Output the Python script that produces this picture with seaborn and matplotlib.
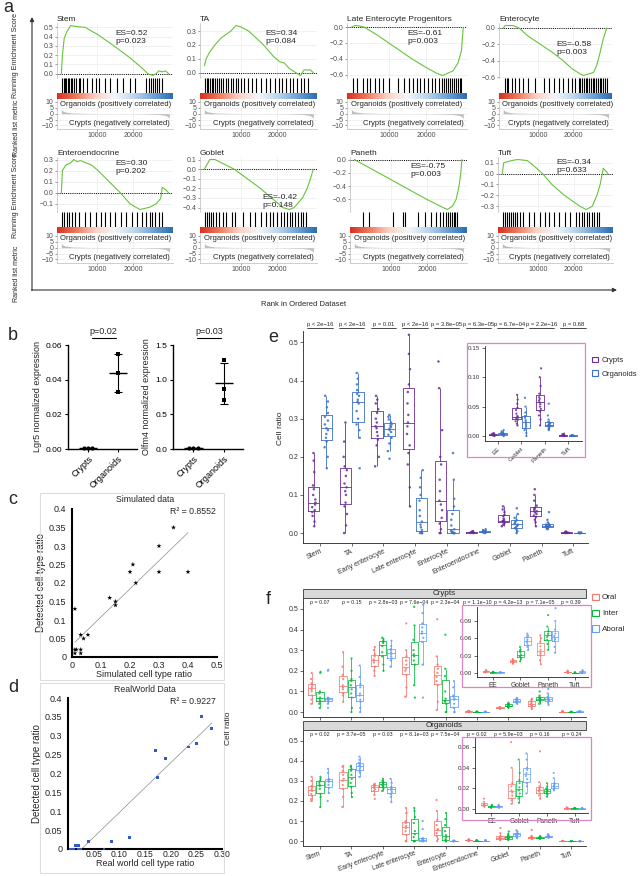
import numpy as np
import pandas as pd
import matplotlib
matplotlib.use("Agg")
import matplotlib.pyplot as plt
import seaborn as sns
from matplotlib.colors import LinearSegmentedColormap
from matplotlib.patches import Rectangle, Patch
from matplotlib.ticker import MultipleLocator, FuncFormatter

# ---------------- data: panel a (GSEA running enrichment score) ----------------
stem_rank = [0, 300, 800, 1500, 2600, 4000, 6600, 10200, 14600, 19100, 22700, 24000, 25400, 26300, 27100, 28000, 28900, 29800]
stem_score = [0.0, 0.2, 0.38, 0.45, 0.52, 0.51, 0.5, 0.42, 0.3, 0.17, 0.05, 0.0, -0.02, 0.0, 0.03, 0.02, 0.03, 0.0]
ta_rank = [0, 500, 1500, 2900, 4600, 7300, 8700, 10000, 12200, 16300, 18900, 20700, 22000, 23400, 25200, 26500, 27400, 29200, 30000]
ta_score = [0.05, 0.1, 0.15, 0.2, 0.25, 0.3, 0.34, 0.33, 0.3, 0.2, 0.12, 0.08, 0.07, 0.03, 0.0, -0.02, 0.02, 0.02, 0.0]
lep_rank = [0, 1000, 2000, 3400, 6900, 10000, 13100, 16200, 19700, 22800, 24400, 25900, 27300, 28600, 29500, 30000]
lep_score = [0.0, 0.02, 0.015, 0.0, -0.1, -0.2, -0.3, -0.4, -0.5, -0.58, -0.61, -0.58, -0.55, -0.45, -0.3, 0.0]
ent_rank = [0, 600, 2800, 4500, 7100, 10600, 14100, 17100, 19700, 21900, 22800, 24500, 25800, 26700, 27600, 28400, 29500]
ent_score = [0.0, 0.03, 0.03, 0.0, -0.1, -0.2, -0.3, -0.4, -0.5, -0.56, -0.58, -0.56, -0.54, -0.45, -0.3, -0.15, 0.0]
ee_rank = [0, 300, 1250, 2600, 3500, 4400, 5300, 8400, 10200, 13300, 16400, 19100, 21800, 24500, 26300, 27600, 28000, 28900, 29800]
ee_score = [0.0, 0.2, 0.25, 0.27, 0.3, 0.28, 0.29, 0.25, 0.2, 0.1, 0.0, -0.1, -0.15, -0.13, -0.1, -0.05, 0.05, 0.03, 0.0]
goblet_rank = [0, 1500, 2900, 5500, 8200, 11800, 15400, 18500, 21600, 23400, 24700, 27000, 28300, 29200, 30000]
goblet_score = [0.0, 0.1, 0.1, 0.05, 0.0, -0.1, -0.2, -0.3, -0.4, -0.42, -0.4, -0.3, -0.2, -0.1, 0.0]
paneth_rank = [0, 5000, 10000, 15000, 20000, 24000, 25600, 27000, 28000, 28800, 29300, 29600]
paneth_score = [0.0, -0.15, -0.3, -0.45, -0.6, -0.71, -0.75, -0.7, -0.6, -0.4, -0.2, 0.0]
tuft_rank = [0, 400, 2600, 4300, 7000, 7800, 9600, 11300, 13900, 17400, 21700, 23500, 25200, 26500, 27400, 28000, 28300, 29100, 29600]
tuft_score = [0.0, 0.1, 0.12, 0.13, 0.12, 0.1, 0.05, 0.0, -0.1, -0.2, -0.3, -0.33, -0.3, -0.2, -0.1, 0.0, 0.05, 0.02, 0.0]

# gene-set hit positions in the ranked list
stem_hits = [300, 700, 1000, 1400, 1800, 2200, 2700, 3100, 3600, 4200, 4800, 5300, 6000, 7200, 8500, 9500, 10500,
             12000, 13500, 15500, 17000, 19000, 20500, 23500, 24200, 24800, 25400, 26000, 26600, 27200, 28000]
ta_hits = [200, 600, 1000, 1500, 2000, 2500, 3000, 3500, 4100, 4700, 5200, 6000, 6500, 7200, 8000, 8700, 9300, 10200,
           11000, 12000, 13000, 14200, 15500, 17000, 18200, 19500, 20500, 21500, 22500, 23500, 24500, 25500, 26500, 27500, 28500]
lep_hits = [500, 1500, 3000, 4200, 5000, 6200, 7500, 8500, 10000, 12500, 14000, 15500, 16500, 17500, 18500, 19500, 20500,
            21500, 22500, 23500, 24200, 24800, 25400, 26000, 26500, 27000, 27500, 28000, 28500, 29000, 29500]
ent_hits = [500, 1000, 1500, 2500, 3500, 4500, 5500, 7000, 9000, 11500, 13000, 14500, 16000, 17000, 18500, 19500, 20500,
            21500, 22000, 22500, 23000, 23500, 24000, 24500, 25000, 25500, 26000, 26500, 27000, 27500, 28000, 28500, 29000, 29500]
ee_hits = [300, 800, 1500, 2200, 3000, 3800, 5000, 6500, 8000, 9500, 11000, 12200, 13500, 15000, 16500, 18000, 19500,
           21000, 22500, 23500, 24500, 25200, 26000, 27000, 28000]
goblet_hits = [300, 800, 1200, 1800, 2500, 3200, 4000, 5000, 6000, 7500, 8500, 10500, 12500, 14000, 15500, 17000, 18000,
               19000, 20000, 21000, 22000, 22800, 23500, 24200, 25000, 25800, 26500, 27200, 28000]
paneth_hits = [2500, 4000, 10500, 13500, 14000, 17500, 19500, 21000, 22500, 23500, 24500, 25200, 25800, 26300, 26800,
               27300, 27800, 28300]
tuft_hits = [300, 800, 1300, 1800, 2300, 2900, 3500, 4200, 5000, 5800, 7500, 9000, 10500, 12000, 13000, 14500, 16000,
             17500, 19000, 20500, 21500, 22200, 23000, 23700, 24400, 25000, 25800, 26500, 27200]

# ranked list metric (shared)
metric_rank = [0, 300, 1000, 3000, 8000, 15000, 22000, 27000, 29000, 29800, 30000]
metric_value = [4, 2.5, 1.5, 0.6, 0.2, 0, -0.2, -0.6, -1.5, -3, -5]

gsea_titles = ["Stem", "TA", "Late Enterocyte Progenitors", "Enterocyte",
               "Enteroendocrine", "Goblet", "Paneth", "Tuft"]
gsea_labels = ["ES=0.52\np=0.023", "ES=0.34\np=0.084", "ES=-0.61\np=0.003", "ES=-0.58\np=0.003",
               "ES=0.30\np=0.202", "ES=-0.42\np=0.148", "ES=-0.75\np=0.003", "ES=-0.34\np=0.633"]

# ---------------- data: panel b ----------------
lgr5_crypts = [0.0005, 0.0005, 0.0005]
lgr5_organoids = [0.055, 0.044, 0.033]
olfm4_crypts = [0.01, 0.01, 0.01]
olfm4_organoids = [1.28, 0.86, 0.71]

# ---------------- data: panels c, d ----------------
sim_true = [0.35, 0.3, 0.21, 0.2, 0.3, 0.4, 0.22, 0.13, 0.15, 0.15, 0.01, 0.03, 0.055, 0.04, 0.01, 0.015, 0.03, 0.01, 0.03]
sim_detected = [0.35, 0.3, 0.25, 0.23, 0.23, 0.23, 0.2, 0.16, 0.15, 0.14, 0.13, 0.06, 0.06, 0.05, 0.02, 0.02, 0.02, 0.01, 0.01]
real_true = [0.26, 0.28, 0.25, 0.235, 0.17, 0.19, 0.175, 0.12, 0.085, 0.04, 0.015, 0.02, 0.01, 0.005, 0.02, 0.025, 0.07]
real_detected = [0.35, 0.32, 0.28, 0.27, 0.26, 0.24, 0.19, 0.03, 0.02, 0.02, 0.01, 0.01, 0.0, 0.0, 0.0, 0.0, 0.0]

# ---------------- data: panel e (cell ratio per cell type) ----------------
cells = ["Stem", "TA", "Early enterocyte", "Late enterocyte", "Enterocyte",
         "Enteroendocrine", "Goblet", "Paneth", "Tuft"]
inset_cells = ["Enteroendocrine", "Goblet", "Paneth", "Tuft"]
inset_labels = ["EE", "Goblet", "Paneth", "Tuft"]

e_crypts = [
    [0.018, 0.03, 0.045, 0.055, 0.06, 0.068, 0.075, 0.08, 0.088, 0.1, 0.115, 0.125, 0.16, 0.19, 0.21],
    [0.0, 0.02, 0.05, 0.07, 0.08, 0.1, 0.11, 0.12, 0.13, 0.15, 0.165, 0.175, 0.2, 0.24, 0.29],
    [0.175, 0.2, 0.23, 0.245, 0.255, 0.265, 0.275, 0.28, 0.29, 0.3, 0.315, 0.325, 0.34, 0.35, 0.36],
    [0.07, 0.12, 0.18, 0.21, 0.23, 0.26, 0.28, 0.29, 0.31, 0.34, 0.37, 0.39, 0.43, 0.47, 0.52],
    [0.0, 0.0, 0.01, 0.025, 0.04, 0.06, 0.075, 0.085, 0.11, 0.14, 0.18, 0.2, 0.27, 0.38, 0.45],
    [0.0, 0.001, 0.001, 0.002, 0.002, 0.002, 0.003, 0.003, 0.004, 0.005],
    [0.018, 0.021, 0.025, 0.028, 0.029, 0.031, 0.032, 0.034, 0.038, 0.044, 0.048, 0.055, 0.062, 0.07],
    [0.018, 0.028, 0.035, 0.042, 0.046, 0.05, 0.054, 0.057, 0.06, 0.063, 0.066, 0.072, 0.085, 0.1, 0.115],
    [0.0, 0.0, 0.0005, 0.001, 0.001, 0.0015, 0.002, 0.003, 0.004],
]
e_organoids = [
    [0.17, 0.2, 0.225, 0.24, 0.25, 0.26, 0.27, 0.275, 0.285, 0.295, 0.305, 0.315, 0.33, 0.345, 0.36],
    [0.17, 0.25, 0.27, 0.285, 0.3, 0.32, 0.34, 0.345, 0.35, 0.36, 0.365, 0.375, 0.39, 0.405, 0.42],
    [0.195, 0.215, 0.235, 0.25, 0.258, 0.265, 0.27, 0.274, 0.278, 0.282, 0.285, 0.29, 0.298, 0.305, 0.31],
    [0.0, 0.0, 0.0, 0.002, 0.008, 0.015, 0.022, 0.03, 0.045, 0.06, 0.085, 0.1, 0.12, 0.145, 0.165],
    [0.0, 0.0, 0.0, 0.0, 0.002, 0.004, 0.006, 0.01, 0.02, 0.035, 0.05, 0.07, 0.09, 0.14, 0.21],
    [0.0, 0.001, 0.002, 0.003, 0.003, 0.004, 0.005, 0.006, 0.008, 0.01],
    [0.0, 0.005, 0.01, 0.013, 0.016, 0.019, 0.022, 0.024, 0.027, 0.031, 0.034, 0.04, 0.05, 0.065],
    [0.01, 0.012, 0.014, 0.016, 0.017, 0.018, 0.019, 0.02, 0.021, 0.022, 0.024, 0.028, 0.035, 0.055],
    [0.0, 0.0, 0.0, 0.0005, 0.0005, 0.001, 0.001, 0.0015],
]
e_pvals = ["p < 2e\u221216", "p < 2e\u221216", "p = 0.01", "p < 2e\u221216", "p = 3.8e\u221205",
           "p = 6.3e\u221205", "p = 6.7e\u221204", "p = 2.2e\u221216", "p = 0.68"]

# ---------------- data: panel f (by region) ----------------
f_crypts_oral = [
    [0.04, 0.06, 0.08, 0.1, 0.11, 0.12, 0.13, 0.14, 0.16, 0.19],
    [0.05, 0.08, 0.09, 0.11, 0.12, 0.13, 0.16, 0.18, 0.22, 0.29],
    [0.175, 0.2, 0.22, 0.24, 0.25, 0.255, 0.27, 0.28, 0.3, 0.315],
    [0.075, 0.12, 0.18, 0.2, 0.21, 0.23, 0.25, 0.27, 0.3, 0.43],
    [0.01, 0.05, 0.13, 0.15, 0.17, 0.19, 0.21, 0.23, 0.27, 0.45],
    [0.001, 0.002, 0.002, 0.003, 0.003, 0.004, 0.004, 0.005],
    [0.016, 0.018, 0.019, 0.02, 0.021, 0.022, 0.023, 0.024],
    [0.015, 0.022, 0.03, 0.033, 0.036, 0.04, 0.046, 0.054, 0.06, 0.065],
    [0.0, 0.0005, 0.001, 0.001, 0.0015, 0.002, 0.003, 0.004],
]
f_crypts_inter = [
    [0.02, 0.04, 0.05, 0.055, 0.065, 0.07, 0.09, 0.1, 0.19, 0.195],
    [0.0, 0.02, 0.07, 0.09, 0.11, 0.13, 0.15, 0.16, 0.2, 0.26],
    [0.2, 0.23, 0.27, 0.29, 0.32, 0.335, 0.34, 0.345, 0.355, 0.36],
    [0.07, 0.13, 0.23, 0.25, 0.27, 0.28, 0.3, 0.35, 0.42, 0.51],
    [0.0, 0.0, 0.04, 0.05, 0.055, 0.065, 0.1, 0.175, 0.21, 0.375],
    [0.0, 0.0005, 0.001, 0.001, 0.0015, 0.002],
    [0.02, 0.024, 0.027, 0.029, 0.031, 0.035, 0.038, 0.04, 0.045],
    [0.04, 0.05, 0.057, 0.062, 0.065, 0.068, 0.072, 0.08, 0.1],
    [0.0, 0.0, 0.0003, 0.0005, 0.0008, 0.001],
]
f_crypts_aboral = [
    [0.02, 0.04, 0.05, 0.055, 0.06, 0.065, 0.068, 0.07, 0.2, 0.205],
    [0.0, 0.02, 0.05, 0.06, 0.08, 0.09, 0.12, 0.135, 0.17, 0.225],
    [0.22, 0.25, 0.26, 0.27, 0.28, 0.29, 0.3, 0.305, 0.32, 0.345],
    [0.07, 0.23, 0.34, 0.36, 0.38, 0.39, 0.41, 0.43, 0.48, 0.52],
    [0.0, 0.0, 0.02, 0.04, 0.06, 0.065, 0.075, 0.08, 0.12, 0.15],
    [0.0, 0.0005, 0.001, 0.001, 0.0015],
    [0.04, 0.045, 0.048, 0.052, 0.055, 0.058, 0.062, 0.065, 0.068],
    [0.035, 0.045, 0.055, 0.058, 0.061, 0.064, 0.068, 0.075, 0.09, 0.112],
    [0.0, 0.0005, 0.001, 0.002, 0.003, 0.005],
]
f_org_oral = [
    [0.2, 0.21, 0.225, 0.235, 0.25, 0.255, 0.265, 0.275, 0.3, 0.32],
    [0.17, 0.22, 0.26, 0.28, 0.3, 0.31, 0.33, 0.35, 0.37, 0.375],
    [0.21, 0.23, 0.25, 0.258, 0.265, 0.27, 0.275, 0.28, 0.283, 0.285],
    [0.0, 0.0, 0.03, 0.05, 0.065, 0.075, 0.09, 0.1, 0.14, 0.165],
    [0.0, 0.01, 0.025, 0.04, 0.055, 0.06, 0.08, 0.105, 0.15, 0.205],
    [0.002, 0.003, 0.004, 0.004, 0.005, 0.007, 0.01],
    [0.005, 0.008, 0.01, 0.013, 0.016, 0.018, 0.022, 0.025, 0.04, 0.065],
    [0.01, 0.013, 0.015, 0.017, 0.018, 0.019, 0.02, 0.022, 0.026, 0.056],
    [0.0, 0.0003, 0.0005, 0.001, 0.0015],
]
f_org_inter = [
    [0.17, 0.22, 0.235, 0.26, 0.275, 0.28, 0.29, 0.3, 0.31, 0.32],
    [0.22, 0.24, 0.27, 0.29, 0.31, 0.33, 0.35, 0.36, 0.37, 0.375],
    [0.25, 0.26, 0.27, 0.275, 0.28, 0.285, 0.29, 0.295, 0.3, 0.31],
    [0.0, 0.0, 0.0, 0.02, 0.035, 0.05, 0.09, 0.12, 0.15, 0.165],
    [0.0, 0.0, 0.005, 0.01, 0.02, 0.03, 0.05, 0.08, 0.11, 0.14],
    [0.001, 0.002, 0.002, 0.003, 0.003, 0.004],
    [0.006, 0.01, 0.012, 0.015, 0.018, 0.021, 0.025, 0.028, 0.035, 0.048],
    [0.012, 0.014, 0.015, 0.016, 0.017, 0.018, 0.019, 0.02, 0.022, 0.025],
    [0.0, 0.0003, 0.0005, 0.0008, 0.001],
]
f_org_aboral = [
    [0.2, 0.24, 0.265, 0.28, 0.295, 0.3, 0.305, 0.31, 0.34, 0.36],
    [0.32, 0.34, 0.35, 0.36, 0.37, 0.375, 0.38, 0.39, 0.405, 0.42],
    [0.195, 0.22, 0.235, 0.245, 0.255, 0.26, 0.265, 0.27, 0.29, 0.31],
    [0.0, 0.0, 0.0, 0.003, 0.005, 0.008, 0.012, 0.015, 0.06, 0.1],
    [0.0, 0.0, 0.0, 0.0, 0.001, 0.001, 0.002, 0.003],
    [0.001, 0.002, 0.002, 0.003, 0.003, 0.004],
    [0.015, 0.022, 0.025, 0.029, 0.032, 0.035, 0.038, 0.04, 0.048, 0.054],
    [0.018, 0.019, 0.02, 0.021, 0.022, 0.023, 0.024, 0.025, 0.03, 0.035],
    [0.0, 0.0, 0.0003, 0.0005, 0.001],
]
f_pvals_crypts = ["p = 0.07", "p = 0.15", "p = 2.8e\u221203", "p = 7.6e\u221204", "p = 2.3e\u221204",
                  "p = 1.1e\u221210", "p = 4.2e\u221213", "p = 7.1e\u221205", "p = 0.39"]
f_pvals_organoids = ["p = 0.02", "p = 3.7e\u221205", "p = 0.03", "p = 8.1e\u221203", "p = 7.5e\u221204",
                     "p = 0.02", "p = 5.9e\u221203", "p = 0.16", "p = 0.24"]

# ---------------- style ----------------
W, H = 641, 876
sns.set_theme(style="ticks")
plt.rcParams["font.family"] = ["Liberation Sans", "DejaVu Sans"]
plt.rcParams["axes.unicode_minus"] = True

GREEN = "#66C43B"
PURPLE = "#6A2C99"
BLUE = "#3A6FC8"
REGION = {"Oral": "#F8766D", "Inter": "#00BA38", "Aboral": "#619CFF"}
PINK = "#DA86C4"
bar_cmap = LinearSegmentedColormap.from_list(
    "rb", ["#D7301F", "#EE7A5E", "#FAD3C4", "#F4F6FA", "#BCD6EC", "#6FA3D3", "#2B6CB0"])
XLIM = (-1200, 31000)

fig = plt.figure(figsize=(W / 100, H / 100), dpi=100)


def px_axes(x0, y0, x1, y1):
    return fig.add_axes([x0 / W, 1 - y1 / H, (x1 - x0) / W, (y1 - y0) / H])


def num_fmt(spec):
    return FuncFormatter(lambda v, p: format(round(v, 8) + 0, spec).replace("-", "\u2212"))


# ---------------- panel a ----------------
gsea_series = [(stem_rank, stem_score, stem_hits), (ta_rank, ta_score, ta_hits),
               (lep_rank, lep_score, lep_hits), (ent_rank, ent_score, ent_hits),
               (ee_rank, ee_score, ee_hits), (goblet_rank, goblet_score, goblet_hits),
               (paneth_rank, paneth_score, paneth_hits), (tuft_rank, tuft_score, tuft_hits)]
gsea_layout = [(57, 173, 23, 0.1, (0.5, 0.87)), (200, 317, 23, 0.1, (0.56, 0.87)),
               (347, 467, 23, 0.2, (0.5, 0.87)), (499, 612, 23, 0.2, (0.51, 0.67)),
               (57, 173, 157, 0.1, (0.5, 0.95)), (200, 317, 157, 0.1, (0.53, 0.33)),
               (350, 467, 157, 0.2, (0.52, 0.89)), (498, 613, 157, 0.1, (0.51, 0.96))]

for (rank, score, hits), (x0, x1, yt, ystep, tpos), title, lab in zip(gsea_series, gsea_layout, gsea_titles, gsea_labels):
    ax = px_axes(x0, yt, x1, yt + 55)
    ax.axhline(0, color="black", ls=(0, (1, 1.2)), lw=0.7, zorder=1)
    sns.lineplot(x=rank, y=score, color=GREEN, lw=0.8, ax=ax, zorder=3)
    ax.set_xlim(XLIM)
    ax.yaxis.set_major_locator(MultipleLocator(ystep))
    ax.yaxis.set_major_formatter(num_fmt(".1f"))
    ax.set_xticks([10000, 20000])
    ax.set_xticklabels([])
    ax.tick_params(axis="x", length=0)
    ax.tick_params(axis="y", labelsize=5, length=1.5, width=0.4, pad=1, colors="#4D4D4D")
    ax.grid(True, color="#EBEBEB", lw=0.5)
    for s in ["top", "right", "bottom"]:
        ax.spines[s].set_visible(False)
    ax.spines["left"].set_color("#BBBBBB")
    ax.spines["left"].set_linewidth(0.5)
    ax.set_xlabel("")
    ax.set_ylabel("")
    ax.set_title(title, loc="left", fontsize=6, pad=1.5)
    ax.text(tpos[0], tpos[1], lab, transform=ax.transAxes, fontsize=6, va="top", ha="left", linespacing=1.25)

    axh = px_axes(x0, yt + 55, x1, yt + 70)
    axh.vlines(hits, 0, 1, color="black", lw=0.8)
    axh.set_xlim(XLIM)
    axh.set_ylim(0, 1)
    axh.axis("off")

    axb = px_axes(x0, yt + 70, x1, yt + 76)
    axb.imshow(np.linspace(0, 1, 256)[None, :], aspect="auto", cmap=bar_cmap, extent=(XLIM[0], XLIM[1], 0, 1))
    axb.set_xlim(XLIM)
    axb.axis("off")

    axm = px_axes(x0, yt + 76, x1, yt + 106)
    axm.fill_between(metric_rank, metric_value, 0, color="#BEBEBE", lw=0)
    axm.set_xlim(XLIM)
    axm.set_ylim(-13, 12.5)
    axm.set_yticks([-10, -5, 0, 5, 10])
    axm.yaxis.set_major_formatter(num_fmt("g"))
    axm.set_xticks([10000, 20000])
    axm.grid(True, color="#EBEBEB", lw=0.5)
    axm.tick_params(labelsize=5, length=1.5, width=0.4, pad=1, colors="#4D4D4D")
    for s in ["top", "right"]:
        axm.spines[s].set_visible(False)
    for s in ["left", "bottom"]:
        axm.spines[s].set_color("#BBBBBB")
        axm.spines[s].set_linewidth(0.5)
    axm.text(0.03, 0.8, "Organoids (positively correlated)", transform=axm.transAxes, fontsize=5.5, va="center")
    axm.text(0.97, 0.17, "Crypts (negatively correlated)", transform=axm.transAxes, fontsize=5.5, va="center", ha="right")

# ---------------- panel b ----------------
def expr_panel(box, crypts, organoids, ylim, yticks, fmt, ylabel):
    ax = px_axes(*box)
    order = ["Crypts", "Organoids"]
    df = pd.DataFrame({"group": ["Crypts"] * len(crypts) + ["Organoids"] * len(organoids),
                       "value": crypts + organoids})
    for grp, mk in [("Crypts", "o"), ("Organoids", "s")]:
        sns.swarmplot(data=df[df.group == grp], x="group", y="value", order=order, color="black",
                      marker=mk, size=3, ax=ax, clip_on=False, zorder=4)
    stats = df.groupby("group")["value"].agg(["mean", "std"]).reindex(order)
    pos = np.arange(2)
    ax.errorbar(pos, stats["mean"], yerr=stats["std"], fmt="none", ecolor="black", elinewidth=0.8,
                capsize=3, capthick=0.8)
    ax.hlines(stats["mean"], pos - 0.3, pos + 0.3, color="black", lw=1.0)
    ax.set_xlim(-0.67, 1.63)
    ax.set_ylim(*ylim)
    ax.set_yticks(yticks)
    ax.yaxis.set_major_formatter(num_fmt(fmt))
    sns.despine(ax=ax)
    for s in ["left", "bottom"]:
        ax.spines[s].set_linewidth(1.0)
        ax.spines[s].set_color("black")
    ax.tick_params(labelsize=6, length=2.5, width=0.8, pad=1.5, colors="black")
    ax.set_xticks(pos)
    ax.set_xticklabels(order, rotation=45, ha="right", rotation_mode="anchor", fontsize=6.5)
    ax.set_xlabel("")
    ax.set_ylabel(ylabel, fontsize=6.5, labelpad=3)
    return ax


expr_panel((68, 345, 137, 449), lgr5_crypts, lgr5_organoids, (0, 0.06), [0, 0.02, 0.04, 0.06], ".2f",
           "Lgr5 normalized expression")
expr_panel((173, 345, 243, 449), olfm4_crypts, olfm4_organoids, (0, 1.5), [0, 0.5, 1.0, 1.5], ".1f",
           "Olfm4 normalized expression")

# ---------------- panels c, d ----------------
def scatter_panel(box, xs, ys, xlim, xticks, xfmt, color, marker, msize, xlabel, xpad, labpad, xsize):
    ax = px_axes(*box)
    sns.scatterplot(x=xs, y=ys, color=color, marker=marker, s=msize, edgecolor="none", ax=ax,
                    clip_on=False, zorder=3)
    sns.regplot(x=xs, y=ys, scatter=False, ci=None, color="#8C8C8C", line_kws={"lw": 0.5}, ax=ax)
    ax.set_xlim(*xlim)
    ax.set_ylim(0, 0.4)
    ax.set_xticks(xticks)
    ax.xaxis.set_major_formatter(num_fmt(xfmt))
    ax.set_yticks(np.arange(0, 0.41, 0.05))
    ax.yaxis.set_major_formatter(num_fmt("g"))
    sns.despine(ax=ax)
    for s in ["left", "bottom"]:
        ax.spines[s].set_linewidth(1.5)
        ax.spines[s].set_color("black")
    ax.tick_params(axis="y", labelsize=6.5, length=0, pad=4, colors="#222222")
    ax.tick_params(axis="x", labelsize=xsize, length=0, pad=xpad, colors="#222222")
    ax.set_xlabel(xlabel, fontsize=6.5, labelpad=labpad)
    ax.set_ylabel("Detected cell type ratio", fontsize=7, labelpad=2)
    return ax


scatter_panel((72, 509, 217, 657), sim_true, sim_detected, (0, 0.5), [0, 0.1, 0.2, 0.3, 0.4, 0.5], "g",
              "black", "*", 14, "Simulated cell type ratio", 3, 0, 6.5)
scatter_panel((68, 698, 222, 849), real_true, real_detected, (0, 0.3),
              [0.05, 0.1, 0.15, 0.2, 0.25, 0.3], ".2f", "#3558C7", "s", 4, "Real world cell type ratio", 0.5, 0.2, 6.2)

# ---------------- panel e ----------------
def to_long(groups):
    rows = []
    for grp, lists in groups:
        for cell, vals in zip(cells, lists):
            rows += [(cell, grp, v) for v in vals]
    return pd.DataFrame(rows, columns=["cell", "group", "value"])


def box_strip(ax, df, order, hue_order, pal, jit, size, lw=0.6):
    sns.boxplot(data=df, x="cell", y="value", hue="group", order=order, hue_order=hue_order,
                palette=pal, fill=False, showfliers=False, showcaps=False, width=0.8, gap=0.12,
                linewidth=lw, saturation=1, legend=False, ax=ax)
    sns.stripplot(data=df, x="cell", y="value", hue="group", order=order, hue_order=hue_order,
                  palette=pal, dodge=True, jitter=jit, size=size, alpha=0.85, linewidth=0,
                  legend=False, ax=ax)
    ax.set_xlabel("")
    ax.set_ylabel("")
    sns.despine(ax=ax)
    for s in ["left", "bottom"]:
        ax.spines[s].set_linewidth(0.6)
        ax.spines[s].set_color("#222222")
    ax.tick_params(labelsize=5, length=2, width=0.5, pad=1.5, colors="#333333")


e_pal = {"Crypts": PURPLE, "Organoids": BLUE}
df_e = to_long([("Crypts", e_crypts), ("Organoids", e_organoids)])
ax_e = px_axes(303, 331, 588, 543)
box_strip(ax_e, df_e, cells, ["Crypts", "Organoids"], e_pal, 0.12, 1.8)
ax_e.set_xlim(-0.54, 8.47)
ax_e.set_ylim(-0.026, 0.53)
ax_e.set_yticks(np.arange(0, 0.51, 0.1))
ax_e.yaxis.set_major_formatter(num_fmt(".1f"))
ax_e.set_xticks(range(len(cells)))
ax_e.set_xticklabels(cells, rotation=25, ha="right", rotation_mode="anchor", fontsize=5)
bt = ax_e.get_xaxis_transform()
for i, p in enumerate(e_pvals):
    ax_e.text(i, 1.02, p, transform=bt, fontsize=4.2, ha="center", va="bottom", clip_on=False)
    ax_e.plot([i - 0.4, i + 0.4], [1.012, 1.012], transform=bt, color="black", lw=0.5, clip_on=False)

ax_ei = px_axes(485, 346, 582, 441)
box_strip(ax_ei, df_e[df_e.cell.isin(inset_cells)], inset_cells, ["Crypts", "Organoids"], e_pal, 0.12, 1.6)
ax_ei.set_xlim(-0.55, 3.6)
ax_ei.set_ylim(-0.0085, 0.153)
ax_ei.set_yticks([0, 0.05, 0.10, 0.15])
ax_ei.yaxis.set_major_formatter(num_fmt(".2f"))
ax_ei.set_xticks(range(4))
ax_ei.set_xticklabels(inset_labels, rotation=45, ha="right", rotation_mode="anchor", fontsize=4.5)
ax_ei.tick_params(axis="y", labelsize=4.5)

fig.legend(handles=[Patch(facecolor="none", edgecolor=PURPLE, lw=0.8), Patch(facecolor="none", edgecolor=BLUE, lw=0.8)],
           labels=["Crypts", "Organoids"], loc="upper left", bbox_to_anchor=(590 / W, 1 - 355 / H),
           frameon=False, fontsize=5.5, handlelength=0.9, handleheight=0.8, labelspacing=0.8, handletextpad=0.4,
           borderaxespad=0, borderpad=0.2)

# ---------------- panel f ----------------
regions = ["Oral", "Inter", "Aboral"]
df_fc = to_long([("Oral", f_crypts_oral), ("Inter", f_crypts_inter), ("Aboral", f_crypts_aboral)])
df_fo = to_long([("Oral", f_org_oral), ("Inter", f_org_inter), ("Aboral", f_org_aboral)])

for df_f, (y0, y1), pvals, inset_box, inset_ylim, inset_ticks, bottom in [
        (df_fc, (598, 717), f_pvals_crypts, (477, 607, 588, 677), (-0.007, 0.114), [0, 0.03, 0.06, 0.09], False),
        (df_fo, (730, 846), f_pvals_organoids, (475, 738, 588, 813), (-0.004, 0.069), [0, 0.02, 0.04, 0.06], True)]:
    ax = px_axes(303, y0, 586, y1)
    box_strip(ax, df_f, cells, regions, REGION, 0.07, 1.6, lw=0.55)
    ax.set_xlim(-0.54, 8.47)
    ax.set_ylim(-0.024, 0.553)
    ax.set_yticks(np.arange(0, 0.51, 0.1))
    ax.yaxis.set_major_formatter(num_fmt(".1f"))
    ax.set_xticks(range(len(cells)))
    if bottom:
        ax.set_xticklabels(cells, rotation=20, ha="right", rotation_mode="anchor", fontsize=4.8)
        ax.tick_params(axis="x", pad=1)
    else:
        ax.set_xticklabels([])
    bt = ax.get_xaxis_transform()
    for i, p in enumerate(pvals):
        ax.text(i, 0.965, p, transform=bt, fontsize=3.8, ha="center", va="center")

    axi = px_axes(*inset_box)
    box_strip(axi, df_f[df_f.cell.isin(inset_cells)], inset_cells, regions, REGION, 0.07, 1.5, lw=0.5)
    axi.set_xlim(-0.59, 3.48)
    axi.set_ylim(*inset_ylim)
    axi.set_yticks(inset_ticks)
    axi.yaxis.set_major_formatter(num_fmt(".2f"))
    axi.set_xticks(range(4))
    axi.set_xticklabels(inset_labels, fontsize=4.8)
    axi.tick_params(axis="y", labelsize=4.5)

fig.legend(handles=[Patch(facecolor="none", edgecolor=REGION[r], lw=0.8) for r in regions],
           labels=regions, loc="upper left", bbox_to_anchor=(590 / W, 1 - 592 / H),
           frameon=False, fontsize=5.8, handlelength=0.9, handleheight=0.8, labelspacing=1.0, handletextpad=0.4,
           borderaxespad=0, borderpad=0.2)

# ---------------- overlay: letters, frames, arrows, shared labels ----------------
over = fig.add_axes([0, 0, 1, 1])
over.set_xlim(0, W)
over.set_ylim(H, 0)
over.axis("off")

for txt, (x, y) in zip("abcdef", [(3, 8), (8, 336), (8, 500), (8, 687), (268, 338), (266, 600)]):
    over.text(x, y, txt, fontsize=13, va="center", ha="left")

over.annotate("", xy=(32, 17), xytext=(32, 290.5),
              arrowprops=dict(arrowstyle="-|>", color="#333333", lw=0.8, mutation_scale=6, shrinkA=0, shrinkB=0))
over.annotate("", xy=(617, 290), xytext=(31.5, 290),
              arrowprops=dict(arrowstyle="-|>", color="#333333", lw=0.8, mutation_scale=6, shrinkA=0, shrinkB=0))
over.text(304, 305, "Rank in Ordered Dataset", fontsize=5.5, ha="center", va="center")
for y in (55, 196):
    over.text(16, y, "Running Enrichment Score", fontsize=5, rotation=90, ha="center", va="center")
for y in (128, 274):
    over.text(16, y, "Ranked list metric", fontsize=5, rotation=90, ha="center", va="center")

# panel b p-values
for xc, lab in [(103.5, "p=0.02"), (209, "p=0.03")]:
    over.text(xc, 332, lab, fontsize=6.5, ha="center", va="center")
    over.plot([xc - 12, xc + 12], [338, 338], color="black", lw=0.8)

# panel c, d frames and titles
for (y0, y1), title, r2 in [((493, 680), "Simulated data", "R\u00b2 = 0.8552"),
                            ((683, 873), "RealWorld Data", "R\u00b2 = 0.9227")]:
    over.add_patch(Rectangle((40, y0), 184, y1 - y0, fill=False, edgecolor="#DDDDDD", lw=0.8))
    over.text(145, y0 + 6.5, title, fontsize=6.3, ha="center", va="center")
    over.text(193, y0 + 18, r2, fontsize=6.3, ha="center", va="center")

# inset frames
over.add_patch(Rectangle((467, 343), 118, 114, fill=False, edgecolor=PINK, lw=0.9))
over.add_patch(Rectangle((462, 605), 129, 82, fill=False, edgecolor=PINK, lw=0.9))
over.add_patch(Rectangle((462, 737), 129, 83, fill=False, edgecolor=PINK, lw=0.9))

# facet strips
for (y0, y1), lab in [((589, 598), "Crypts"), ((721, 730), "Organoids")]:
    over.add_patch(Rectangle((303, y0), 283, y1 - y0, facecolor="#D9D9D9", edgecolor="#333333", lw=0.6))
    over.text(444.5, (y0 + y1) / 2, lab, fontsize=5.8, ha="center", va="center")

over.text(281, 428, "Cell ratio", fontsize=6, rotation=90, ha="center", va="center")
over.text(228, 728, "Cell ratio", fontsize=6, rotation=90, ha="center", va="center")

fig.savefig("out.png", dpi=100)
